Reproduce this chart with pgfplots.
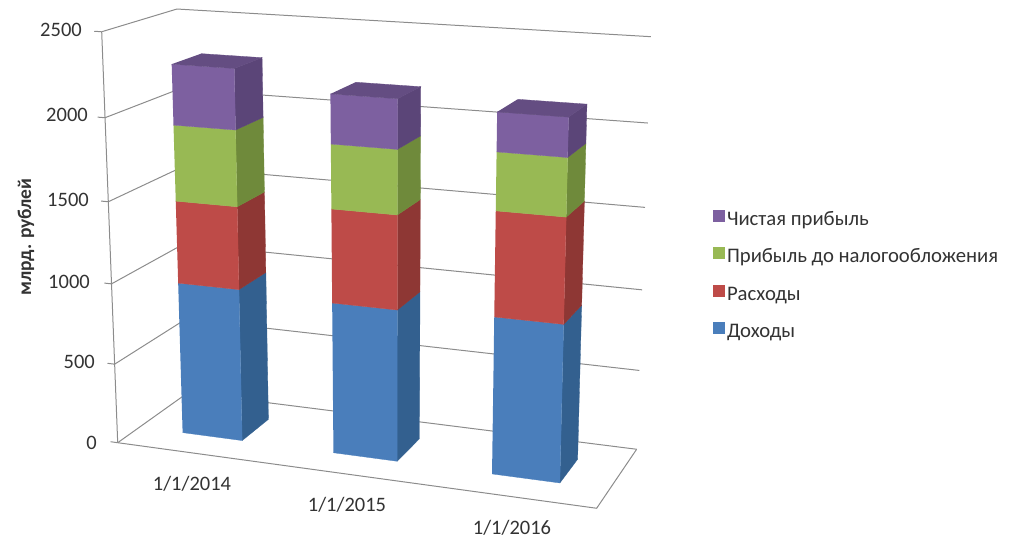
\documentclass[border=0pt]{standalone}
\usepackage{pgfplots}
\usepackage{pgfplotstable}
\usepackage{fontspec}
\pgfplotsset{compat=1.18}
\setmainfont{Carlito}

\definecolor{gridgray}{HTML}{8C8C8C}
\definecolor{txt}{HTML}{333333}
\definecolor{blueF}{HTML}{4A7EBB}\definecolor{blueS}{HTML}{33608F}
\definecolor{redF}{HTML}{BE4B48}\definecolor{redS}{HTML}{8E3734}
\definecolor{greenF}{HTML}{98B954}\definecolor{greenS}{HTML}{6F8A3B}
\definecolor{purpleF}{HTML}{7D60A0}\definecolor{purpleS}{HTML}{5B4578}
\definecolor{purpleT}{HTML}{644D82}

% unit faces of a box: s across, d into the depth, t up the value
\pgfplotstableread{
s d t
0 0 0
1 0 0
1 0 1
0 0 1
}\frontface
\pgfplotstableread{
s d t
1 0 0
1 1 0
1 1 1
1 0 1
}\sideface
\pgfplotstableread{
s d t
0 0 1
1 0 1
1 1 1
0 1 1
}\topface

% wall and floor outlines: X across, D depth
\pgfplotstableread{
X D
0 0
0 1
1 1
}\wallline
\pgfplotstableread{
X D
0 0
1 0
1 1
}\floorline

\newcommand\boxface[6]{% table, x0, x1, v0, v1, colour
  \addplot[forget plot, fill=#6, draw=#6, line width=0.3pt] table[
    x expr={px(#2+(#3-#2)*\thisrow{s}, 0.30+0.41*\thisrow{d}, (#4+(#5-#4)*\thisrow{t})/2500)},
    y expr={py(#2+(#3-#2)*\thisrow{s}, 0.30+0.41*\thisrow{d}, (#4+(#5-#4)*\thisrow{t})/2500)}
  ] {#1};
}
\newcommand\segment[5]{% x0, x1, v0, v1, colour stem
  \boxface{\sideface}{#1}{#2}{#3}{#4}{#5S}
  \boxface{\frontface}{#1}{#2}{#3}{#4}{#5F}
}
\newcommand\gridat[1]{%
  \addplot[forget plot, gridgray, line width=1pt] table[
    x expr={px(\thisrow{X},\thisrow{D},#1/2500)},
    y expr={py(\thisrow{X},\thisrow{D},#1/2500)}] {\wallline};
  \addplot[forget plot, gridgray, line width=1pt] table[
    x expr={px(\thisrow{X},0,#1/2500)},
    y expr={py(\thisrow{X},0,#1/2500)}, row sep=\\] {X\\ -0.016\\ 0\\};
}

\begin{document}
\begin{tikzpicture}
\path[use as bounding box] (0,0) rectangle (1015pt,543pt);
\begin{axis}[
  at={(0,0)}, anchor=south west,
  scale only axis, width=1015pt, height=543pt,
  xmin=0, xmax=1015, ymin=0, ymax=543, y dir=reverse,
  axis lines=none, clip=false,
  declare function={
    ww(\X,\D,\Z)=1-0.0792*\X+0.0746*\D-0.055*\Z;
    px(\X,\D,\Z)=(117.7+431.7*\X+84.3*\D-21.6*\Z)/ww(\X,\D,\Z);
    py(\X,\D,\Z)=(442.7+25.3*\X-20.8*\D-412.7*\Z)/ww(\X,\D,\Z);
  },
  legend style={at={(axis cs:713,209)}, anchor=north west, draw=none, fill=none,
    inner sep=0pt, outer sep=0pt, font=\fontsize{20.7}{20.7}\selectfont\color{txt},
    nodes={text height=14pt, text depth=5pt},
    row sep=14.6pt, /tikz/every even column/.style={column sep=6.5pt}},
  legend cell align=left,
  legend image code/.code={\path[#1, draw=none] (0pt,-1pt) rectangle (12pt,11pt);},
]
\addlegendimage{fill=purpleF}\addlegendentry{Чистая прибыль}
\addlegendimage{fill=greenF}\addlegendentry{Прибыль до налогообложения}
\addlegendimage{fill=redF}\addlegendentry{Расходы}
\addlegendimage{fill=blueF}\addlegendentry{Доходы}

% walls and floor
\gridat{0}\gridat{500}\gridat{1000}\gridat{1500}\gridat{2000}\gridat{2500}
\addplot[forget plot, gridgray, line width=1pt] table[
  x expr={px(\thisrow{X},\thisrow{D},0)}, y expr={py(\thisrow{X},\thisrow{D},0)}] {\floorline};
\addplot[forget plot, gridgray, line width=1pt] table[
  x expr={px(0,0,\thisrow{Z})}, y expr={py(0,0,\thisrow{Z})}, row sep=\\] {Z\\ 0\\ 1\\};

% 1/1/2014: 955, 507, 460, 362
\segment{0.098}{0.232}{0}{955}{blue}
\segment{0.098}{0.232}{955}{1462}{red}
\segment{0.098}{0.232}{1462}{1922}{green}
\segment{0.098}{0.232}{1922}{2284}{purple}
\boxface{\topface}{0.098}{0.232}{1922}{2284}{purpleT}
% 1/1/2015: 934, 567, 383, 291
\segment{0.432}{0.568}{0}{934}{blue}
\segment{0.432}{0.568}{934}{1501}{red}
\segment{0.432}{0.568}{1501}{1884}{green}
\segment{0.432}{0.568}{1884}{2175}{purple}
\boxface{\topface}{0.432}{0.568}{1884}{2175}{purpleT}
% 1/1/2016: 955, 622, 338, 226
\segment{0.765}{0.902}{0}{955}{blue}
\segment{0.765}{0.902}{955}{1577}{red}
\segment{0.765}{0.902}{1577}{1915}{green}
\segment{0.765}{0.902}{1915}{2141}{purple}
\boxface{\topface}{0.765}{0.902}{1915}{2141}{purpleT}

\begin{scope}[every node/.style={font=\fontsize{20.5}{20.5}\selectfont, text=txt, inner sep=0pt}]
  \node[anchor=east] at (axis cs:82,30) {2500};
  \node[anchor=east] at (axis cs:88,115) {2000};
  \node[anchor=east] at (axis cs:89,200) {1500};
  \node[anchor=east] at (axis cs:90,282) {1000};
  \node[anchor=east] at (axis cs:95,362) {500};
  \node[anchor=east] at (axis cs:97,443) {0};
  \node at (axis cs:192,484) {1/1/2014};
  \node at (axis cs:347,505) {1/1/2015};
  \node at (axis cs:512,528) {1/1/2016};
  \node[rotate=90, font=\fontsize{19.5}{19.5}\selectfont\bfseries] at (axis cs:26,237) {млрд. рублей};
\end{scope}
\end{axis}
\end{tikzpicture}
\end{document}
